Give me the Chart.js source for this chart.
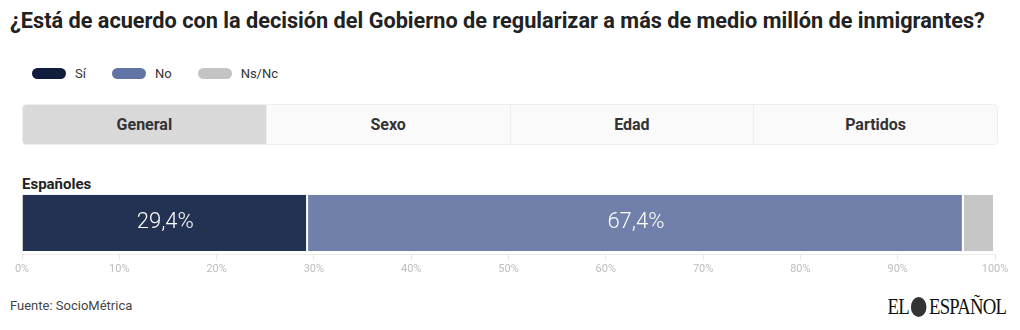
<!DOCTYPE html>
<html lang="es">
<head>
<meta charset="utf-8">
<title>Regularización de inmigrantes</title>
<script src="https://cdn.jsdelivr.net/npm/chart.js"></script>
<style>
  html, body { margin: 0; padding: 0; background: #fff; }
  body {
    width: 1020px; height: 330px; position: relative; overflow: hidden;
    font-family: "Roboto", "Noto Sans", sans-serif;
    color: #222;
  }
  .title {
    position: absolute; left: 10px; top: 8px;
    font-size: 21.7px; font-weight: 700; color: #222; white-space: nowrap;
  }
  .legend { position: absolute; left: 32px; top: 66px; display: flex; font-size: 13px; color: #333; }
  .legend .item { display: flex; align-items: center; margin-right: 26px; }
  .legend .pill { width: 34px; height: 11px; border-radius: 6px; margin-right: 9px; }
  .tabs {
    position: absolute; left: 22px; top: 104px; width: 976px; height: 41px;
    display: flex; border: 1px solid #eee; border-radius: 4px; overflow: hidden; box-sizing: border-box;
  }
  .tabs div {
    flex: 1; display: flex; align-items: center; justify-content: center;
    font-size: 16px; font-weight: 700; color: #333; background: #fafafa; border-left: 1px solid #eee;
  }
  .tabs div:first-child { border-left: none; }
  .tabs div.active { background: #d9d9d9; }
  .row-label { position: absolute; left: 22px; top: 175px; font-size: 15px; font-weight: 700; color: #222; }
  .chart-box { position: absolute; left: 0; top: 181px; width: 1020px; height: 106px; }
  .source { position: absolute; left: 10px; top: 298px; font-size: 13px; color: #444; }
  .logo {
    position: absolute; right: 14px; top: 293px; font-family: "Liberation Serif", "DejaVu Serif", serif;
    font-size: 24px; color: #111; letter-spacing: -1px; transform: scaleX(0.78); transform-origin: right center;
    display: flex; align-items: center;
  }
  .logo .lion { display: inline-block; width: 20px; height: 20px; border-radius: 50%; background: #333; margin: 0 3px; }
</style>
</head>
<body>
<div class="title">¿Está de acuerdo con la decisión del Gobierno de regularizar a más de medio millón de inmigrantes?</div>
<div class="legend" id="legend"></div>
<div class="tabs">
  <div class="active">General</div>
  <div>Sexo</div>
  <div>Edad</div>
  <div>Partidos</div>
</div>
<div class="row-label">Españoles</div>
<div class="chart-box"><canvas id="chart"></canvas></div>
<div class="source">Fuente: SocioMétrica</div>
<div class="logo">EL<span class="lion"></span>ESPAÑOL</div>

<script>
  // data
  const categories = ['Españoles'];
  const seriesNames = ['Sí', 'No', 'Ns/Nc'];
  const siValues = [29.4];
  const noValues = [67.4];
  const nsncValues = [3.2];
  const barColors = ['#233152', '#7080aa', '#c6c6c6'];
  const legendColors = ['#101d3d', '#6273a6', '#c4c4c4'];
  const tickValues = [0, 10, 20, 30, 40, 50, 60, 70, 80, 90, 100];

  // html legend
  const legendEl = document.getElementById('legend');
  seriesNames.forEach((name, i) => {
    const item = document.createElement('div');
    item.className = 'item';
    item.innerHTML = '<span class="pill" style="background:' + legendColors[i] + '"></span>' + name;
    legendEl.appendChild(item);
  });

  const fmt = v => v.toFixed(1).replace('.', ',') + '%';

  // white value labels inside big segments
  const valueLabels = {
    id: 'valueLabels',
    afterDatasetsDraw(chart) {
      const ctx = chart.ctx;
      ctx.save();
      ctx.fillStyle = '#fff';
      ctx.font = '300 22px Roboto, sans-serif';
      ctx.textAlign = 'center';
      ctx.textBaseline = 'middle';
      chart.data.datasets.forEach((ds, i) => {
        chart.getDatasetMeta(i).data.forEach((bar, j) => {
          const v = ds.data[j];
          if (v < 10) return;
          const x = (bar.x + bar.base) / 2;
          ctx.fillText(fmt(v), x, bar.y);
        });
      });
      ctx.restore();
    }
  };

  const datasets = [siValues, noValues, nsncValues].map((vals, i) => ({
    label: seriesNames[i],
    data: vals,
    backgroundColor: barColors[i],
    borderColor: '#ffffff',
    borderWidth: { left: 0, right: 2, top: 0, bottom: 0 },
    borderSkipped: false,
    barPercentage: 1,
    categoryPercentage: 0.88
  }));

  new Chart(document.getElementById('chart'), {
    type: 'bar',
    data: { labels: categories, datasets: datasets },
    options: {
      indexAxis: 'y',
      responsive: true,
      maintainAspectRatio: false,
      animation: false,
      layout: { padding: { left: 22, right: 25, top: 10, bottom: 8 } },
      plugins: { legend: { display: false }, tooltip: { enabled: false } },
      scales: {
        x: {
          stacked: true,
          min: 0,
          max: 100,
          afterBuildTicks: axis => { axis.ticks = tickValues.map(v => ({ value: v })); },
          ticks: {
            callback: v => v + '%',
            color: '#bdbdbd',
            font: { family: 'Roboto, sans-serif', size: 11 },
            padding: 3,
            maxRotation: 0
          },
          grid: { drawOnChartArea: false, drawTicks: true, tickLength: 5, color: '#e6e6e6' },
          border: { color: '#ececec' }
        },
        y: { stacked: true, display: false }
      }
    },
    plugins: [valueLabels]
  });
</script>
</body>
</html>
